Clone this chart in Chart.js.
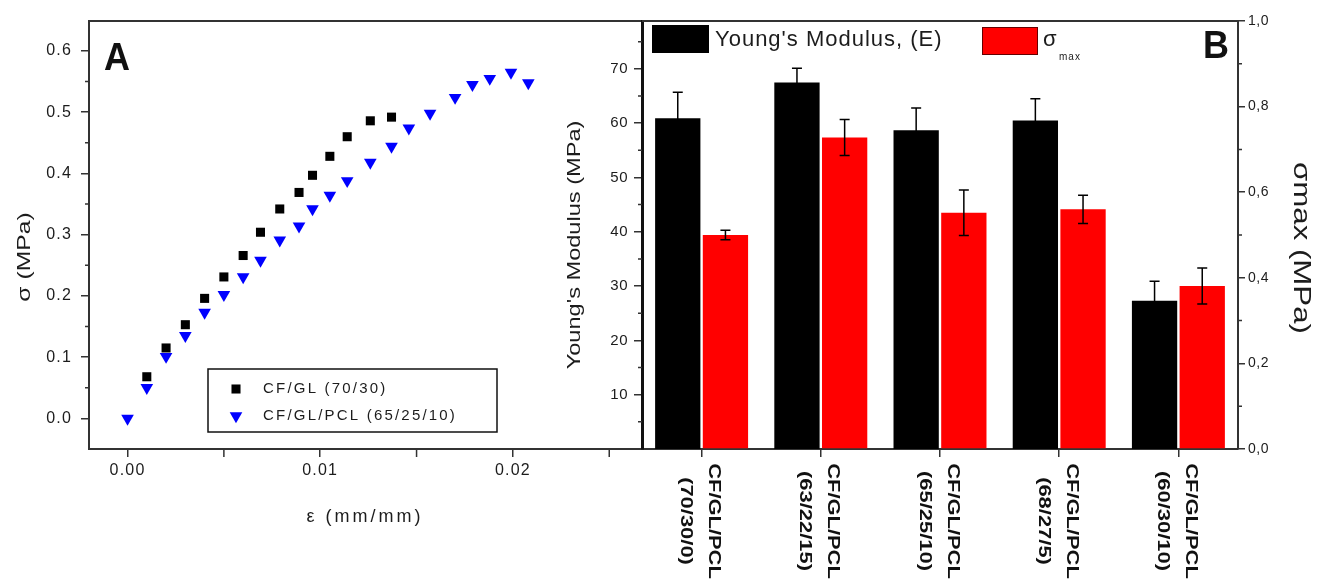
<!DOCTYPE html>
<html>
<head>
<meta charset="utf-8">
<script src="https://cdn.jsdelivr.net/npm/chart.js@4.4.0/dist/chart.umd.min.js"></script>
<style>
  html, body { margin: 0; padding: 0; background: #fff; }
  #wrap { position: relative; width: 1333px; height: 579px; overflow: hidden; }
  #chartA { position: absolute; left: 0; top: 0; }
  #chartB { position: absolute; left: 540px; top: 0; }
</style>
</head>
<body>
<div id="wrap">
  <canvas id="chartA" width="660" height="579"></canvas>
  <canvas id="chartB" width="793" height="579"></canvas>
</div>
<script>
// PANEL A DATA (stress / strain)
const strainGL = [0.001, 0.002, 0.003, 0.004, 0.005, 0.006, 0.0069, 0.0079, 0.0089, 0.0096, 0.0105, 0.0114, 0.0126, 0.0137];
const stressGL = [0.068, 0.115, 0.153, 0.196, 0.231, 0.266, 0.304, 0.342, 0.369, 0.397, 0.428, 0.460, 0.486, 0.492];
const strainPCL = [0, 0.001, 0.002, 0.003, 0.004, 0.005, 0.006, 0.0069, 0.0079, 0.0089, 0.0096, 0.0105, 0.0114, 0.0126, 0.0137, 0.0146, 0.0157, 0.017, 0.0179, 0.0188, 0.0199, 0.0208];
const stressPCL = [0, 0.050, 0.101, 0.135, 0.173, 0.202, 0.231, 0.258, 0.291, 0.314, 0.342, 0.364, 0.388, 0.418, 0.444, 0.474, 0.498, 0.524, 0.545, 0.555, 0.565, 0.548];
const labelGL = "CF/GL (70/30)";
const labelPCL = "CF/GL/PCL (65/25/10)";

const xTicksA = [0, 0.01, 0.02];
const xTickLabelsA = ["0.00", "0.01", "0.02"];
const xMinorA = [0.005, 0.015, 0.025];
const yTicksA = [0, 0.1, 0.2, 0.3, 0.4, 0.5, 0.6];
const yTickLabelsA = ["0.0", "0.1", "0.2", "0.3", "0.4", "0.5", "0.6"];
const yMinorA = [0.05, 0.15, 0.25, 0.35, 0.45, 0.55];

// PANEL B DATA (bars)
const compositions = [
  ["CF/GL/PCL", "(70/30/0)"],
  ["CF/GL/PCL", "(63/22/15)"],
  ["CF/GL/PCL", "(65/25/10)"],
  ["CF/GL/PCL", "(68/27/5)"],
  ["CF/GL/PCL", "(60/30/10)"],
];
const youngModulus = [60.9, 67.5, 58.7, 60.5, 27.3];
const youngErr = [4.8, 2.6, 4.1, 4.0, 3.6];
const sigmaMax = [0.500, 0.728, 0.552, 0.560, 0.381];
const sigmaErr = [0.011, 0.042, 0.053, 0.033, 0.042];

const yTicksB = [10, 20, 30, 40, 50, 60, 70];
const yTickLabelsB = ["10", "20", "30", "40", "50", "60", "70"];
const yMinorB = [5, 15, 25, 35, 45, 55, 65, 75];
const y1TicksB = [0, 0.2, 0.4, 0.6, 0.8, 1.0];
const y1TickLabelsB = ["0,0", "0,2", "0,4", "0,6", "0,8", "1,0"];
const y1MinorB = [0.1, 0.3, 0.5, 0.7, 0.9];

const FONT = "'Liberation Sans', Arial, sans-serif";
const TXT = "#1c1c1c";
const AXIS = "#333";

// draw text with optional rotation / stretch along the text direction
function drawText(ctx, s, x, y, o) {
  ctx.save();
  ctx.translate(x, y);
  if (o.rot) ctx.rotate(o.rot);
  ctx.scale(o.sx || 1, o.sy || 1);
  ctx.font = o.font;
  ctx.letterSpacing = o.ls || "0px";
  ctx.fillStyle = o.color || TXT;
  ctx.textAlign = o.align || "center";
  ctx.textBaseline = o.base || "middle";
  ctx.fillText(s, 0, 0);
  ctx.restore();
}

function minorTicks(ctx, scale, values, len) {
  ctx.save();
  ctx.strokeStyle = AXIS;
  ctx.lineWidth = 1.5;
  ctx.beginPath();
  values.forEach((v) => {
    const p = scale.getPixelForValue(v);
    if (scale.isHorizontal()) {
      ctx.moveTo(p, scale.top);
      ctx.lineTo(p, scale.top + len);
    } else if (scale.position === "left") {
      ctx.moveTo(scale.right, p);
      ctx.lineTo(scale.right - len, p);
    } else {
      ctx.moveTo(scale.left, p);
      ctx.lineTo(scale.left + len, p);
    }
  });
  ctx.stroke();
  ctx.restore();
}

function fixTicks(values) {
  return (scale) => {
    scale.ticks = values.map((v) => ({ value: v }));
  };
}

function axisStyle() {
  return {
    border: { display: true, color: AXIS, width: 2 },
    grid: { display: true, drawOnChartArea: false, drawTicks: true, tickLength: 8, color: AXIS, lineWidth: 1.5 },
  };
}

// LETTER SPACING
const spacingPlugin = (ls) => ({
  id: "spacing",
  beforeDraw(chart) {
    chart.ctx.letterSpacing = ls;
  },
});

// PANEL A EXTRAS
const panelAExtras = {
  id: "panelAExtras",
  afterDraw(chart) {
    const ctx = chart.ctx;
    const a = chart.chartArea;
    ctx.save();
    ctx.letterSpacing = "0px";
    // top frame line
    ctx.strokeStyle = AXIS;
    ctx.lineWidth = 2;
    ctx.beginPath();
    ctx.moveTo(a.left, a.top);
    ctx.lineTo(a.right, a.top);
    ctx.stroke();
    ctx.restore();

    minorTicks(ctx, chart.scales.x, xMinorA, 8);
    minorTicks(ctx, chart.scales.y, yMinorA, 4);

    drawText(ctx, "A", 117, 59, { font: "bold 36px " + FONT, sy: 1.1, color: "#111" });
    drawText(ctx, "σ (MPa)", 25, 257, { font: "19px " + FONT, rot: -Math.PI / 2, sx: 1.3 });
    drawText(ctx, "ε (mm/mm)", 365, 517, { font: "18px " + FONT, ls: "3px" });

    // legend box
    ctx.save();
    ctx.strokeStyle = "#111";
    ctx.lineWidth = 1.5;
    ctx.strokeRect(208, 369, 289, 63);
    ctx.restore();
    const rows = [389, 416];
    chart.data.datasets.forEach((ds, i) => {
      ctx.save();
      ctx.fillStyle = ds.backgroundColor;
      ctx.strokeStyle = ds.backgroundColor;
      Chart.helpers.drawPoint(ctx, { pointStyle: ds.pointStyle, rotation: ds.rotation, radius: ds.pointRadius, borderWidth: 0 }, 236, rows[i]);
      ctx.restore();
      drawText(ctx, ds.label, 263, rows[i], { font: "15px " + FONT, ls: "2.2px", align: "left" });
    });
  },
};

new Chart(document.getElementById("chartA"), {
  type: "scatter",
  data: {
    datasets: [
      {
        label: labelGL,
        data: strainGL.map((x, i) => ({ x: x, y: stressGL[i] })),
        pointStyle: "rect",
        pointRadius: 6.4,
        backgroundColor: "#000",
        borderColor: "#000",
        borderWidth: 0,
      },
      {
        label: labelPCL,
        data: strainPCL.map((x, i) => ({ x: x, y: stressPCL[i] })),
        pointStyle: "triangle",
        rotation: 180,
        pointRadius: 7.3,
        backgroundColor: "#0000ff",
        borderColor: "#0000ff",
        borderWidth: 0,
      },
    ],
  },
  options: {
    responsive: false,
    animation: false,
    layout: { padding: { left: 0, right: 18, top: 21, bottom: 0 } },
    plugins: { legend: { display: false }, tooltip: { enabled: false } },
    scales: {
      x: {
        type: "linear",
        min: -0.002,
        max: 0.0267,
        ...axisStyle(),
        afterBuildTicks: fixTicks(xTicksA),
        afterFit: (s) => { s.height = 130; },
        ticks: {
          padding: 4,
          color: TXT,
          font: { family: FONT, size: 16 },
          callback: (v, i) => xTickLabelsA[i],
        },
      },
      y: {
        type: "linear",
        min: -0.05,
        max: 0.649,
        ...axisStyle(),
        afterBuildTicks: fixTicks(yTicksA),
        afterFit: (s) => { s.width = 89; },
        ticks: {
          padding: 9,
          color: TXT,
          font: { family: FONT, size: 16 },
          callback: (v, i) => yTickLabelsA[i],
        },
      },
    },
  },
  plugins: [spacingPlugin("1.2px"), panelAExtras],
});

// PANEL B EXTRAS
const panelBExtras = {
  id: "panelBExtras",
  afterDatasetsDraw(chart) {
    const ctx = chart.ctx;
    ctx.save();
    ctx.strokeStyle = "#000";
    ctx.lineWidth = 1.5;
    chart.data.datasets.forEach((ds, i) => {
      const meta = chart.getDatasetMeta(i);
      const ys = chart.scales[meta.yAxisID];
      meta.data.forEach((bar, j) => {
        const v = ds.data[j];
        const e = ds.errors[j];
        const top = ys.getPixelForValue(v + e);
        const bot = ys.getPixelForValue(v - e);
        ctx.beginPath();
        ctx.moveTo(bar.x, top);
        ctx.lineTo(bar.x, bot);
        ctx.moveTo(bar.x - 5, top);
        ctx.lineTo(bar.x + 5, top);
        ctx.moveTo(bar.x - 5, bot);
        ctx.lineTo(bar.x + 5, bot);
        ctx.stroke();
      });
    });
    ctx.restore();
  },
  afterDraw(chart) {
    const ctx = chart.ctx;
    const a = chart.chartArea;
    ctx.save();
    ctx.strokeStyle = AXIS;
    ctx.lineWidth = 2;
    ctx.beginPath();
    ctx.moveTo(a.left, a.top);
    ctx.lineTo(a.right, a.top);
    ctx.stroke();
    ctx.restore();

    minorTicks(ctx, chart.scales.y, yMinorB, 4);
    minorTicks(ctx, chart.scales.y1, y1MinorB, 4);

    // rotated category labels
    const xs = chart.scales.x;
    compositions.forEach((lines, i) => {
      const px = xs.getPixelForTick(i);
      drawText(ctx, lines[0], px + 12, 521, { font: "bold 16px " + FONT, rot: Math.PI / 2, sx: 1.37, color: "#111" });
      drawText(ctx, lines[1], px - 16, 521, { font: "bold 16px " + FONT, rot: Math.PI / 2, sx: 1.37, color: "#111" });
    });

    drawText(ctx, "Young's Modulus (MPa)", 35, 245, { font: "18px " + FONT, rot: -Math.PI / 2, sx: 1.31 });
    drawText(ctx, "σmax (MPa)", 761, 248, { font: "24px " + FONT, rot: Math.PI / 2, sx: 1.3 });
    drawText(ctx, "B", 676, 47, { font: "bold 36px " + FONT, sy: 1.1, color: "#111" });

    // legend
    const dsE = chart.data.datasets[0];
    const dsS = chart.data.datasets[1];
    ctx.save();
    ctx.fillStyle = dsE.backgroundColor;
    ctx.fillRect(112, 25, 57, 28);
    ctx.fillStyle = dsS.backgroundColor;
    ctx.strokeStyle = "#600";
    ctx.lineWidth = 1;
    ctx.fillRect(442, 27, 56, 28);
    ctx.strokeRect(442.5, 27.5, 55, 27);
    ctx.restore();
    drawText(ctx, dsE.label, 175, 40, { font: "22px " + FONT, ls: "1px", align: "left" });
    drawText(ctx, dsS.label.charAt(0), 503, 40, { font: "22px " + FONT, align: "left" });
    drawText(ctx, dsS.label.slice(1), 519, 57, { font: "10px " + FONT, ls: "1px", align: "left" });
  },
};

new Chart(document.getElementById("chartB"), {
  type: "bar",
  data: {
    labels: compositions,
    datasets: [
      {
        label: "Young's Modulus, (E)",
        data: youngModulus,
        errors: youngErr,
        yAxisID: "y",
        backgroundColor: "#000000",
        categoryPercentage: 0.8,
        barPercentage: 0.95,
      },
      {
        label: "σmax",
        data: sigmaMax,
        errors: sigmaErr,
        yAxisID: "y1",
        backgroundColor: "#ff0000",
        categoryPercentage: 0.8,
        barPercentage: 0.95,
      },
    ],
  },
  options: {
    responsive: false,
    animation: false,
    layout: { padding: { left: 0, right: 0, top: 21, bottom: 0 } },
    plugins: { legend: { display: false }, tooltip: { enabled: false } },
    scales: {
      x: {
        ...axisStyle(),
        grid: { display: true, drawOnChartArea: false, drawTicks: true, tickLength: 8, color: AXIS, lineWidth: 1.5, offset: false },
        afterFit: (s) => { s.height = 130; },
        ticks: { color: "rgba(0,0,0,0)", maxRotation: 0, autoSkip: false },
      },
      y: {
        type: "linear",
        position: "left",
        min: 0,
        max: 78.8,
        ...axisStyle(),
        border: { display: true, color: "#111", width: 3 },
        afterBuildTicks: fixTicks(yTicksB),
        afterFit: (s) => { s.width = 102; },
        ticks: {
          padding: 6,
          color: TXT,
          font: { family: FONT, size: 15 },
          callback: (v, i) => yTickLabelsB[i],
        },
      },
      y1: {
        type: "linear",
        position: "right",
        min: 0,
        max: 1,
        ...axisStyle(),
        grid: { display: true, drawOnChartArea: false, drawTicks: true, tickLength: 7, color: AXIS, lineWidth: 1.5 },
        afterBuildTicks: fixTicks(y1TicksB),
        afterFit: (s) => { s.width = 95; },
        ticks: {
          padding: 3,
          color: TXT,
          font: { family: FONT, size: 14 },
          callback: (v, i) => y1TickLabelsB[i],
        },
      },
    },
  },
  plugins: [spacingPlugin("0.5px"), panelBExtras],
});
</script>
</body>
</html>
